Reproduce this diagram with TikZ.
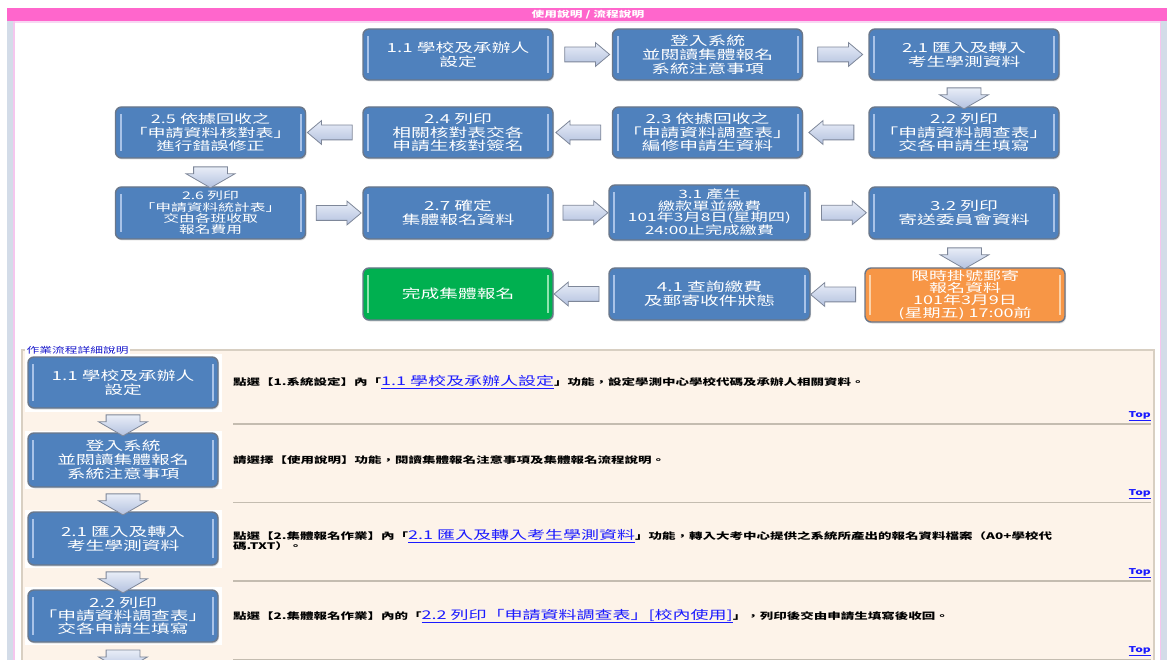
\documentclass[tikz,border=0pt]{standalone}
\usepackage{fontspec}
\newfontfamily\cjk[FakeStretch=1.5]{Noto Sans CJK TC}
\usetikzlibrary{shapes.arrows,shadows,calc}
\definecolor{pinkbar}{HTML}{FF66CC}
\definecolor{sideblue}{HTML}{D3DCE8}
\definecolor{sidepink}{HTML}{F5C6EE}
\definecolor{boxblue}{HTML}{4F81BD}
\definecolor{boxline}{HTML}{6A778A}
\definecolor{bevelblue}{HTML}{A9C3E8}
\definecolor{boxgreen}{HTML}{00B050}
\definecolor{bevelgreen}{HTML}{8FE3AE}
\definecolor{boxorange}{HTML}{F79646}
\definecolor{bevelorange}{HTML}{FCD2A8}
\definecolor{arrowline}{HTML}{7E8799}
\definecolor{arrowtop}{HTML}{E8EDF7}
\definecolor{arrowbot}{HTML}{B3C1DF}
\definecolor{peach}{HTML}{FDF3E9}
\definecolor{fsline}{HTML}{D8CFC2}
\definecolor{sepline}{HTML}{C4BCB0}
\definecolor{linkblue}{HTML}{1A1AFF}
\definecolor{legblue}{HTML}{1A1ACC}
\newcommand\boxfont{\cjk\fontsize{12.5}{14}\selectfont}
\newcommand\descfont{\cjk\bfseries\fontsize{9}{10}\selectfont}
\newcommand\lnk[1]{{\cjk\mdseries\fontsize{12}{12}\selectfont\color{linkblue}\underline{#1}}}
\newcommand\topfont{\cjk\bfseries\fontsize{8}{8}\selectfont}
\tikzset{
  bevelcol/.store in=\bevelcol, bevelcol=bevelblue,
  flowbox/.style={rounded corners=6pt, draw=boxline, line width=1.4pt, fill=boxblue,
    text=white, align=center, font=\boxfont, minimum width=190pt, minimum height=51pt,
    inner sep=2pt,
    drop shadow={opacity=0.25, shadow xshift=1pt, shadow yshift=-1.5pt},
    path picture={
      \draw[draw=\bevelcol, line width=2pt]
        ([xshift=5pt,yshift=-7pt]path picture bounding box.north west) --
        ([xshift=5pt,yshift=7pt]path picture bounding box.south west);
      \draw[draw=\bevelcol, line width=2pt]
        ([xshift=-5pt,yshift=-7pt]path picture bounding box.north east) --
        ([xshift=-5pt,yshift=7pt]path picture bounding box.south east);}},
  greenbox/.style={flowbox, fill=boxgreen, bevelcol=bevelgreen},
  orangebox/.style={flowbox, fill=boxorange, bevelcol=bevelorange},
  harrow/.style={single arrow, draw=arrowline, line width=0.8pt, top color=arrowtop,
    bottom color=arrowbot, minimum height=45pt, inner xsep=0pt, inner ysep=7pt,
    single arrow head extend=4.5pt, single arrow tip angle=80},
  rarrow/.style={harrow},
  larrow/.style={harrow, rotate=180},
  darrow/.style={single arrow, draw=arrowline, line width=0.8pt, top color=arrowtop,
    bottom color=arrowbot, minimum height=21pt, inner xsep=0pt, inner ysep=16.5pt,
    single arrow head extend=7.5pt, single arrow tip angle=120, rotate=-90},
  desc/.style={anchor=west, font=\descfont, text=black, inner sep=0pt},
  toplink/.style={anchor=east, font=\topfont, text=linkblue, inner sep=0pt},
  sep/.style={draw=sepline, line width=1.1pt}
}
\begin{document}
\begin{tikzpicture}[x=1pt,y=-1pt]
\useasboundingbox (0,0) rectangle (1167,660);
\clip (0,0) rectangle (1167,660);
\fill[white] (0,0) rectangle (1167,660);
% page frame
\fill[pinkbar] (7,8) rectangle (1167,21.5);
\fill[sidepink!70] (13,21.5) rectangle (1161,23);
\fill[sideblue] (7,21.5) rectangle (13,660);
\fill[sidepink] (13,21.5) rectangle (14.5,660);
\fill[sidepink] (1159.5,21.5) rectangle (1161,660);
\fill[sideblue] (1161,21.5) rectangle (1167,660);
\node[font=\cjk\bfseries\fontsize{8.5}{9}\selectfont, text=white, inner sep=0pt] (hdr) at (588,14.5) {使用說明 / 流程說明};

% top flow chart
\node[flowbox] (b11) at (458,54.5) {1.1 學校及承辦人\\設定};
\node[flowbox] (blogin) at (707.5,54.5) {登入系統\\並閱讀集體報名\\系統注意事項};
\node[flowbox] (b21) at (964,54.5) {2.1 匯入及轉入\\考生學測資料};
\node[flowbox, font=\cjk\fontsize{12.5}{13.3}\selectfont] (b22) at (964,132.5) {2.2 列印\\「申請資料調查表」\\交各申請生填寫};
\node[flowbox, font=\cjk\fontsize{12.5}{13.3}\selectfont] (b23) at (707.5,132.5) {2.3 依據回收之\\「申請資料調查表」\\編修申請生資料};
\node[flowbox, font=\cjk\fontsize{12.5}{13.3}\selectfont] (b24) at (458,132.5) {2.4 列印\\相關核對表交各\\申請生核對簽名};
\node[flowbox, font=\cjk\fontsize{12}{13.3}\selectfont] (b25) at (210.5,132.5) {2.5 依據回收之\\「申請資料核對表」\\進行錯誤修正};
\node[flowbox, minimum height=52pt, font=\cjk\fontsize{10.5}{11.4}\selectfont] (b26) at (210.5,213) {2.6 列印\\「申請資料統計表」\\交由各班收取\\報名費用};
\node[flowbox, minimum height=52pt] (b27) at (458,213) {2.7 確定\\集體報名資料};
\node[flowbox, minimum width=201pt, minimum height=55pt, font=\cjk\fontsize{11.5}{11.4}\selectfont] (b31) at (709.5,212.5) {3.1 產生\\繳款單並繳費\\101年3月8日(星期四)\\24:00止完成繳費};
\node[flowbox, minimum height=52pt] (b32) at (964,213) {3.2 列印\\寄送委員會資料};
\node[orangebox, minimum width=200pt, minimum height=54pt, font=\cjk\fontsize{12}{11}\selectfont] (bmail) at (965,295) {限時掛號郵寄\\報名資料\\101年3月9日\\(星期五) 17:00前};
\node[flowbox, minimum width=201pt, minimum height=52pt] (b41) at (709.5,294) {4.1 查詢繳費\\及郵寄收件狀態};
\node[greenbox, minimum height=52pt] (bdone) at (458,294) {完成集體報名};

% top flow arrows
\node[rarrow] (a1) at ($(b11.east)!0.5!(blogin.west)$) {};
\node[rarrow] (a2) at ($(blogin.east)!0.5!(b21.west)$) {};
\node[darrow] (a3) at ($(b21.south)!0.5!(b22.north)$) {};
\node[larrow] (a4) at ($(b22.west)!0.5!(b23.east)$) {};
\node[larrow] (a5) at ($(b23.west)!0.5!(b24.east)$) {};
\node[larrow] (a6) at ($(b24.west)!0.5!(b25.east)$) {};
\node[darrow] (a7) at ($(b25.south)!0.5!(b26.north)$) {};
\node[rarrow] (a8) at ($(b26.east)!0.5!(b27.west)$) {};
\node[rarrow] (a9) at ($(b27.east)!0.5!(b31.west)$) {};
\node[rarrow] (a10) at ($(b31.east)!0.5!(b32.west)$) {};
\node[darrow] (a11) at ($(b32.south)!0.5!(bmail.north)$) {};
\node[larrow] (a12) at ($(bmail.west)!0.5!(b41.east)$) {};
\node[larrow] (a13) at ($(b41.west)!0.5!(bdone.east)$) {};

% detail fieldset
\draw[fsline, line width=1.2pt, fill=peach] (22,350) rectangle (1154,680);
\node[anchor=west, font=\cjk\fontsize{8.5}{9}\selectfont, text=legblue, fill=white, inner sep=1.5pt] (legend) at (25,350.5) {作業流程詳細說明};

\fill[white] (25,353.5) rectangle (222,411.5);
\fill[white] (25,431) rectangle (222,489);
\fill[white] (25,509.5) rectangle (222,567.5);
\fill[white] (25,587) rectangle (222,645);
\node[flowbox, minimum height=51pt] (l11) at (123,382.5) {1.1 學校及承辦人\\設定};
\node[flowbox, minimum height=54pt] (llogin) at (123,460) {登入系統\\並閱讀集體報名\\系統注意事項};
\node[flowbox, minimum height=53pt] (l21) at (123,538.5) {2.1 匯入及轉入\\考生學測資料};
\node[flowbox, minimum height=52pt, font=\cjk\fontsize{12.5}{13.3}\selectfont] (l22) at (123,616) {2.2 列印\\「申請資料調查表」\\交各申請生填寫};
\node[darrow] (la1) at ($(l11.south)!0.5!(llogin.north)$) {};
\node[darrow] (la2) at ($(llogin.south)!0.5!(l21.north)$) {};
\node[darrow] (la3) at ($(l21.south)!0.5!(l22.north)$) {};
\node[darrow] (la4) at ($(l22.south)+(0,13)$) {};

% descriptions
\node[desc] (d1) at (233,382) {點選【1.系統設定】內「\lnk{1.1 學校及承辦人設定}」功能，設定學測中心學校代碼及承辦人相關資料。};
\node[toplink] (t1) at (1151,416) {\underline{Top}};
\draw[sep] (233,424) -- (1151,424);
\node[desc] (d2) at (233,460) {請選擇【使用說明】功能，閱讀集體報名注意事項及集體報名流程說明。};
\node[toplink] (t2) at (1151,494) {\underline{Top}};
\draw[sep] (233,502.5) -- (1151,502.5);
\node[desc] (d3) at (233,536) {點選【2.集體報名作業】內「\lnk{2.1 匯入及轉入考生學測資料}」功能，轉入大考中心提供之系統所產出的報名資料檔案（A0+學校代};
\node[desc] (d3b) at (233,546.5) {碼.TXT）。};
\node[toplink] (t3) at (1151,573) {\underline{Top}};
\draw[sep] (233,581) -- (1151,581);
\node[desc] (d4) at (233,616) {點選【2.集體報名作業】內的「\lnk{2.2 列印「申請資料調查表」[校內使用]}」，列印後交由申請生填寫後收回。};
\node[toplink] (t4) at (1151,651) {\underline{Top}};
\draw[sep] (233,659.5) -- (1151,659.5);
\end{tikzpicture}
\end{document}
